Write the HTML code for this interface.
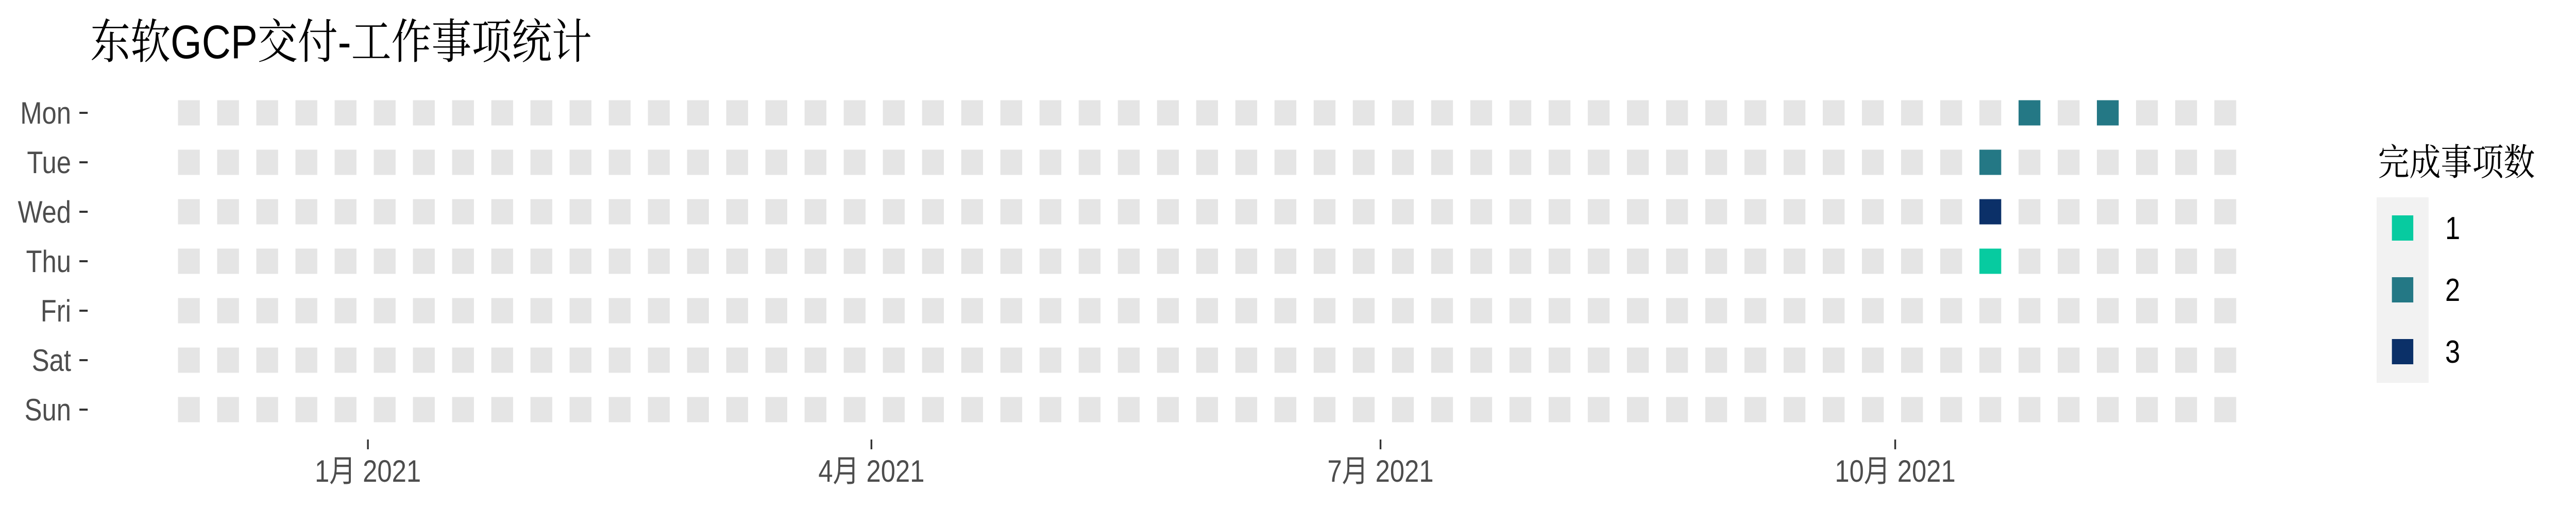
<!DOCTYPE html>
<html><head><meta charset="utf-8">
<style>
html,body{margin:0;padding:0;background:#fff;width:100%;height:100%;overflow:hidden;}
svg{display:block;width:100vw;height:100vh;}
</style></head>
<body>
<svg id="chart" viewBox="0 0 5905 984" preserveAspectRatio="none" xmlns="http://www.w3.org/2000/svg">
<rect width="5905" height="984" fill="#fff"/>
<text x="207" y="113" font-size="92" font-family="'Liberation Sans','Noto Serif CJK SC',serif" fill="#000">东软GCP交付-工作事项统计</text>
<g id="cells"></g>
<g id="yaxis"></g>
<g id="xaxis"></g>
<g id="legend">
<text x="5451" y="340" font-size="72" font-family="'Liberation Sans','Noto Serif CJK SC',serif" fill="#000">完成事项数</text>
<rect x="5448" y="383" width="119" height="360" fill="#F2F2F2"/>
</g>
</svg>
<script>
const days = ['Mon','Tue','Wed','Thu','Fri','Sat','Sun'];
const numWeeks = 53;
const cellWeek = [47, 49, 46, 46, 46];
const cellDay = [0, 0, 1, 2, 3];
const cellCount = [2, 2, 2, 3, 1];
const legendLevels = [1, 2, 3];
const tickDayOffsets = [32, 122, 213, 305];
const tickLabels = ['1月 2021','4月 2021','7月 2021','10月 2021'];

const NS='http://www.w3.org/2000/svg';
const x0=433, pitch=89.77, dayW=pitch/7, y0=219, rowP=96, cw=50, ch=49;
const colors={1:'#07CBA0',2:'#247885',3:'#0B3068'};
const xScale=w=>x0+w*pitch;
const xDay=d=>x0+d*dayW;
const yScale=d=>y0+d*rowP;
function mk(tag,attrs,parent){const e=document.createElementNS(NS,tag);for(const k in attrs)e.setAttribute(k,attrs[k]);parent.appendChild(e);return e;}
const cells=document.getElementById('cells');
const filled={};
cellWeek.forEach((w,i)=>{filled[w+'_'+cellDay[i]]=cellCount[i];});
for(let w=0;w<numWeeks;w++){for(let d=0;d<7;d++){
  const v=filled[w+'_'+d];
  const r=mk('rect',{x:xScale(w)-cw/2,y:yScale(d)-ch/2,width:cw,height:ch,fill:v?colors[v]:'#E5E5E5'},cells);
  
  
}}
const ya=document.getElementById('yaxis');
days.forEach((d,i)=>{
  const t=mk('text',{x:163,y:yScale(i)+21,'text-anchor':'end','font-size':60,'font-family':"'Liberation Sans',sans-serif",fill:'#4D4D4D'},ya);
  t.textContent=d;
  
  
  const l=mk('line',{x1:182,x2:201,y1:yScale(i),y2:yScale(i),stroke:'#333','stroke-width':4},ya);
  
  
});
const xa=document.getElementById('xaxis');
tickDayOffsets.forEach((o,i)=>{
  const x=xDay(o);
  const l=mk('line',{x1:x,x2:x,y1:853,y2:872,stroke:'#333','stroke-width':4},xa);
  
  
  const t=mk('text',{x:x,y:935,'text-anchor':'middle','font-size':60,'font-family':"'Liberation Sans','Noto Sans CJK SC',sans-serif",fill:'#4D4D4D'},xa);
  t.textContent=tickLabels[i];
  
  
});
const lg=document.getElementById('legend');
legendLevels.forEach((v,i)=>{
  const y=418+i*120;
  const r=mk('rect',{x:5483,y:y,width:49,height:49,fill:colors[v]},lg);
  
  
  const t=mk('text',{x:5605,y:y+46,'font-size':62,'font-family':"'Liberation Sans',sans-serif",fill:'#000'},lg);
  t.textContent=v;
  
  
});
</script>
</body></html>
